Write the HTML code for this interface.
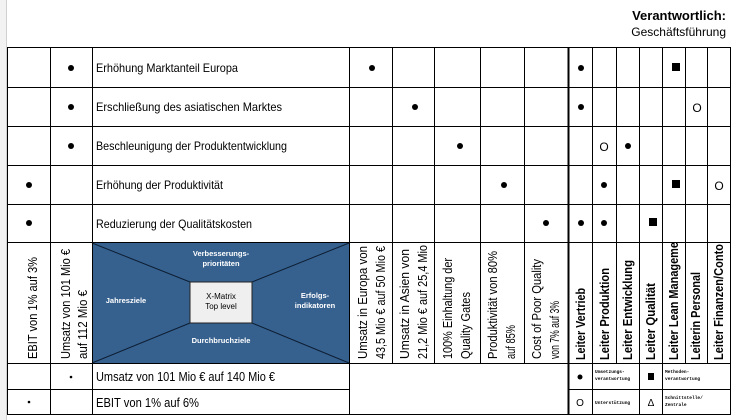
<!DOCTYPE html>
<html><head><meta charset="utf-8"><style>
html,body{margin:0;padding:0;background:#fff;width:736px;height:420px;overflow:hidden}
svg{display:block;font-family:"Liberation Sans",Arial,sans-serif}
</style></head><body>
<svg width="736" height="420" viewBox="0 0 736 420" xmlns="http://www.w3.org/2000/svg">
<rect x="0" y="0" width="6" height="420" fill="#f2f2f2"/>
<line x1="6.5" y1="0" x2="6.5" y2="420" stroke="#d0d0d0"/>
<text x="726" y="20" font-size="13" font-weight="bold" text-anchor="end">Verantwortlich:</text>
<text x="726" y="36" font-size="12" text-anchor="end">Geschäftsführung</text>
<!-- X-matrix -->
<rect x="92" y="243" width="257" height="120" fill="#36618f"/>
<g stroke="#0d1e33" stroke-width="1">
<line x1="92" y1="243" x2="190" y2="282"/><line x1="349" y1="243" x2="252" y2="282"/>
<line x1="92" y1="363" x2="190" y2="323"/><line x1="349" y1="363" x2="252" y2="323"/>
</g>
<rect x="190" y="282" width="62" height="41" fill="#efefef" stroke="#222"/>
<text x="221" y="299" font-size="8" text-anchor="middle">X-Matrix</text>
<text x="221" y="309" font-size="8" text-anchor="middle">Top level</text>
<g fill="#fff" font-size="7.5" font-weight="bold" text-anchor="middle">
<text x="221" y="256">Verbesserungs-</text><text x="221" y="266">prioritäten</text>
<text x="126" y="303">Jahresziele</text>
<text x="315" y="298">Erfolgs-</text><text x="315" y="308">indikatoren</text>
<text x="221" y="343">Durchbruchziele</text>
</g>
<!-- grid -->
<g stroke="#000" stroke-width="1" fill="none">
<line x1="7" y1="47.5" x2="730" y2="47.5"/>
<line x1="7" y1="87.5" x2="730" y2="87.5"/>
<line x1="7" y1="126.5" x2="730" y2="126.5"/>
<line x1="7" y1="165.5" x2="730" y2="165.5"/>
<line x1="7" y1="204.5" x2="730" y2="204.5"/>
<line x1="7" y1="242.5" x2="730" y2="242.5"/>
<line x1="7" y1="363.5" x2="730" y2="363.5"/>
<line x1="7" y1="389.5" x2="350" y2="389.5"/>
<line x1="568" y1="389.5" x2="730" y2="389.5"/>
<line x1="7" y1="414.5" x2="730" y2="414.5"/>
<line x1="7.5" y1="47" x2="7.5" y2="415"/>
<line x1="50.5" y1="47" x2="50.5" y2="415"/>
<line x1="92.5" y1="47" x2="92.5" y2="415"/>
<line x1="349.5" y1="47" x2="349.5" y2="415"/>
<line x1="392.5" y1="47" x2="392.5" y2="363"/>
<line x1="434.5" y1="47" x2="434.5" y2="363"/>
<line x1="480.5" y1="47" x2="480.5" y2="363"/>
<line x1="524.5" y1="47" x2="524.5" y2="363"/>
<line x1="568.5" y1="47" x2="568.5" y2="415" stroke-width="2"/>
<line x1="592.5" y1="47" x2="592.5" y2="415"/>
<line x1="616.5" y1="47" x2="616.5" y2="363"/>
<line x1="639.5" y1="47" x2="639.5" y2="415"/>
<line x1="662.5" y1="47" x2="662.5" y2="415"/>
<line x1="685.5" y1="47" x2="685.5" y2="363"/>
<line x1="707.5" y1="47" x2="707.5" y2="363"/>
<line x1="730.5" y1="47" x2="730.5" y2="415"/>
</g>
<!-- row labels -->
<g font-size="12" lengthAdjust="spacingAndGlyphs">
<text x="96" y="72" textLength="142" lengthAdjust="spacingAndGlyphs">Erhöhung Marktanteil Europa</text>
<text x="96" y="111" textLength="186" lengthAdjust="spacingAndGlyphs">Erschließung des asiatischen Marktes</text>
<text x="96" y="150" textLength="191" lengthAdjust="spacingAndGlyphs">Beschleunigung der Produktentwicklung</text>
<text x="96" y="189" textLength="127" lengthAdjust="spacingAndGlyphs">Erhöhung der Produktivität</text>
<text x="96" y="228" textLength="156" lengthAdjust="spacingAndGlyphs">Reduzierung der Qualitätskosten</text>
<text x="96" y="381" font-size="13" textLength="179" lengthAdjust="spacingAndGlyphs">Umsatz von 101 Mio € auf 140 Mio €</text>
<text x="96" y="407" font-size="13" textLength="103" lengthAdjust="spacingAndGlyphs">EBIT von 1% auf 6%</text>
</g>
<!-- marks -->
<g fill="#000">
<circle cx="71" cy="68" r="3"/><circle cx="372" cy="68" r="3"/><circle cx="581" cy="68" r="3"/>
<rect x="672" y="63" width="8" height="8"/>
<circle cx="71" cy="107" r="3"/><circle cx="415" cy="107" r="3"/><circle cx="581" cy="107" r="3"/>
<circle cx="71" cy="146" r="3"/><circle cx="460" cy="146" r="3"/><circle cx="628" cy="146" r="3"/>
<circle cx="29" cy="185" r="3"/><circle cx="504" cy="185" r="3"/><circle cx="604" cy="185" r="3"/>
<rect x="672" y="180" width="8" height="8"/>
<circle cx="29" cy="223" r="3"/><circle cx="546" cy="223" r="3"/><circle cx="581" cy="223" r="3"/><circle cx="604" cy="223" r="3"/>
<rect x="649" y="218" width="8" height="8"/>
<circle cx="71" cy="377" r="1.3"/><circle cx="29" cy="402" r="1.3"/>
</g>
<g font-size="12" text-anchor="middle">
<text x="697" y="112">O</text><text x="604" y="151">O</text><text x="719" y="190">O</text>
</g>
<!-- rotated headers -->
<g font-size="13">
<text transform="translate(37,359) rotate(-90)" textLength="102" lengthAdjust="spacingAndGlyphs">EBIT von 1% auf 3%</text>
<text transform="translate(70,359) rotate(-90)" textLength="110" lengthAdjust="spacingAndGlyphs">Umsatz von 101 Mio €</text>
<text transform="translate(87,359) rotate(-90)" textLength="69" lengthAdjust="spacingAndGlyphs">auf 112 Mio €</text>
<text transform="translate(367,359) rotate(-90)" textLength="113" lengthAdjust="spacingAndGlyphs">Umsatz in Europa von</text>
<text transform="translate(385,359) rotate(-90)" textLength="113" lengthAdjust="spacingAndGlyphs">43,5 Mio € auf 50 Mio €</text>
<text transform="translate(409,359) rotate(-90)" textLength="110" lengthAdjust="spacingAndGlyphs">Umsatz in Asien von</text>
<text transform="translate(427,359) rotate(-90)" textLength="114" lengthAdjust="spacingAndGlyphs">21,2 Mio € auf 25,4 Mio</text>
<text transform="translate(452,359) rotate(-90)" textLength="101" lengthAdjust="spacingAndGlyphs">100% Einhaltung der</text>
<text transform="translate(470,359) rotate(-90)" textLength="67" lengthAdjust="spacingAndGlyphs">Quality Gates</text>
<text transform="translate(497,359) rotate(-90)" textLength="108" lengthAdjust="spacingAndGlyphs">Produktivität von 80%</text>
<text transform="translate(515,359) rotate(-90)" textLength="34" lengthAdjust="spacingAndGlyphs">auf 85%</text>
<text transform="translate(541,359) rotate(-90)" textLength="100" lengthAdjust="spacingAndGlyphs">Cost of Poor Quality</text>
<text transform="translate(559,359) rotate(-90)" textLength="58" lengthAdjust="spacingAndGlyphs">von 7% auf 3%</text>
</g>
<g font-size="13" font-weight="bold">
<text transform="translate(585,360) rotate(-90)" textLength="72" lengthAdjust="spacingAndGlyphs">Leiter Vertrieb</text>
<text transform="translate(609,360) rotate(-90)" textLength="92" lengthAdjust="spacingAndGlyphs">Leiter Produktion</text>
<text transform="translate(632,360) rotate(-90)" textLength="100" lengthAdjust="spacingAndGlyphs">Leiter Entwicklung</text>
<text transform="translate(655,360) rotate(-90)" textLength="77" lengthAdjust="spacingAndGlyphs">Leiter Qualität</text>
<text transform="translate(678,360) rotate(-90)" textLength="118" lengthAdjust="spacingAndGlyphs">Leiter Lean Manageme</text>
<text transform="translate(700,360) rotate(-90)" textLength="88" lengthAdjust="spacingAndGlyphs">Leiterin Personal</text>
<text transform="translate(723,360) rotate(-90)" textLength="116" lengthAdjust="spacingAndGlyphs">Leiter Finanzen/Conto</text>
</g>
<!-- legend -->
<circle cx="580" cy="377" r="2.5"/>
<rect x="648" y="373" width="6" height="7"/>
<text x="580" y="406" font-size="10" text-anchor="middle">O</text>
<text x="651" y="406" font-size="10" text-anchor="middle">Δ</text>
<g font-size="4.5" font-weight="bold" font-family="'Liberation Mono',monospace">
<text x="595" y="373">Umsetzungs-</text><text x="595" y="380">verantwortung</text>
<text x="665" y="373">Methoden-</text><text x="665" y="380">verantwortung</text>
<text x="595" y="404">Unterstützung</text>
<text x="665" y="399">Schnittstelle/</text><text x="665" y="406">Zentrale</text>
</g>
</svg>
</body></html>
